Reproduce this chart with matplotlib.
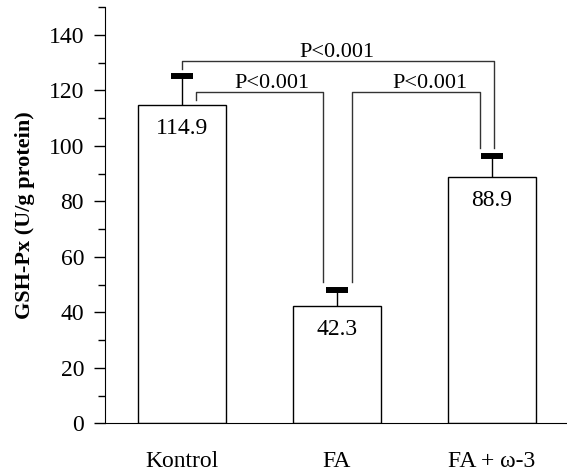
import matplotlib
matplotlib.use('Agg')
import matplotlib.pyplot as plt
from matplotlib.ticker import MultipleLocator

# data
groups = ['Kontrol', 'FA', 'FA + ω-3']
means = [114.9, 42.3, 88.9]
sds = [10.3, 5.7, 7.4]
p_labels = ['P<0.001', 'P<0.001', 'P<0.001']

plt.rcParams['font.family'] = ['Liberation Serif', 'DejaVu Serif']

fig = plt.figure(figsize=(5.67, 4.73), dpi=100)
ax = fig.add_axes([0.185, 0.1047, 0.815, 0.8803])

x = list(range(len(groups)))
ax.bar(x, means, width=0.57, color='white', edgecolor='black', linewidth=1.0, zorder=2)
eb = ax.errorbar(x, means, yerr=[[0] * len(sds), sds], fmt='none', ecolor='black',
                 elinewidth=1.0, capsize=7.9, capthick=4.3, zorder=3)
# only the upper cap
eb[1][0].set_visible(False)

# value labels inside bars
for xi, m in zip(x, means):
    ax.text(xi, m - 8.6, f'{m}', ha='center', va='center', fontsize=17)

# significance brackets
lc = '#333333'
ax.plot([0.09, 0.09, 0.91, 0.91], [116.5, 119.4, 119.4, 51.1], color=lc, lw=1.0)
ax.plot([1.10, 1.10, 1.92, 1.92], [51.1, 119.4, 119.4, 99.2], color=lc, lw=1.0)
ax.plot([0.0, 0.0, 2.01, 2.01], [127.7, 130.5, 130.5, 99.2], color=lc, lw=1.0)
ax.text(0.58, 121.0, p_labels[0], ha='center', va='baseline', fontsize=16)
ax.text(1.6, 121.0, p_labels[1], ha='center', va='baseline', fontsize=16)
ax.text(1.0, 132.0, p_labels[2], ha='center', va='baseline', fontsize=16)

ax.set_xlim(-0.497, 2.484)
ax.set_ylim(0, 150)
ax.yaxis.set_minor_locator(MultipleLocator(10))
ax.set_yticks(range(0, 141, 20))
ax.tick_params(axis='y', which='major', direction='out', length=8, width=1, labelsize=17, pad=7)
ax.tick_params(axis='y', which='minor', direction='out', length=5, width=1)
ax.set_xticks(x)
ax.set_xticklabels(groups, fontsize=17)
ax.tick_params(axis='x', length=0, pad=20)
ax.spines['top'].set_visible(False)
ax.spines['right'].set_visible(False)
ax.set_ylabel('GSH-Px (U/g protein)', fontsize=16, fontweight='bold', labelpad=10)

fig.savefig('out.png', dpi=100)
